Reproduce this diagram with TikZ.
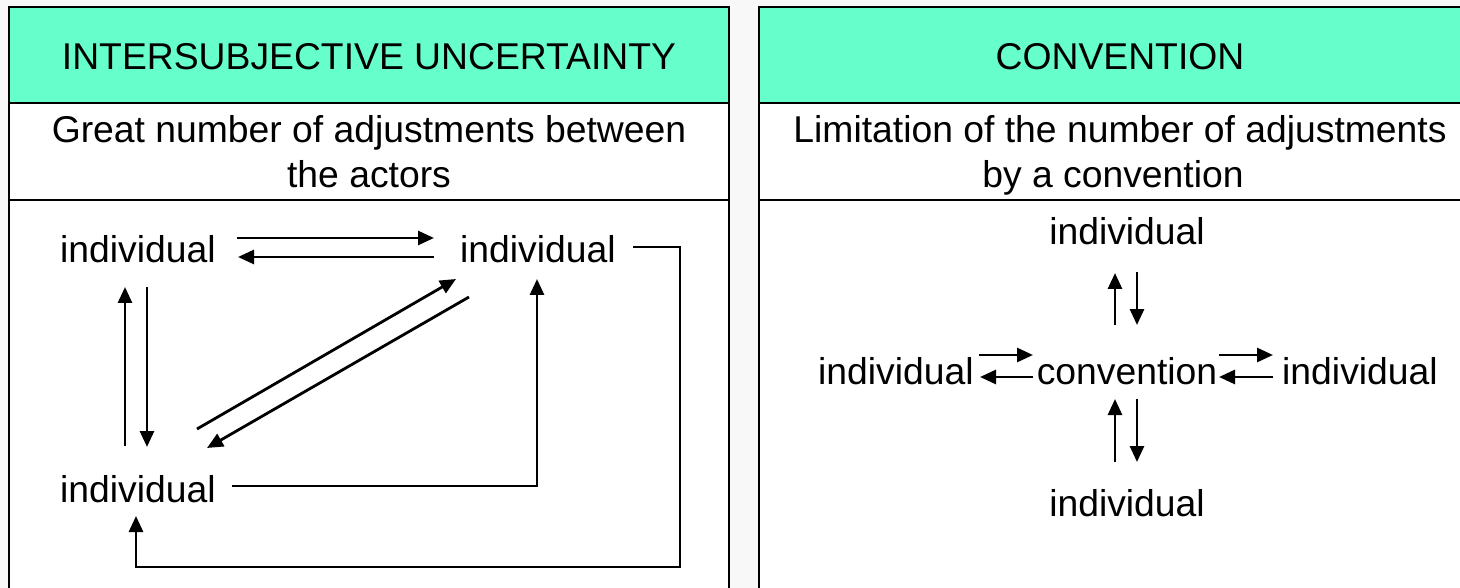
\documentclass[tikz,border=0pt]{standalone}
\usepackage{fontspec}
\setmainfont{Liberation Sans}
\usetikzlibrary{arrows.meta}
\definecolor{hdr}{RGB}{102,255,204}
\definecolor{bgc}{RGB}{248,248,248}
\begin{document}
\begin{tikzpicture}[x=1pt,y=-1pt,
  txt/.style={inner sep=0pt, font=\fontsize{37.3}{45}\selectfont},
  grid/.style={line width=2.6pt, draw=black},
  arr/.style={line width=2.8pt, -{Triangle[length=16pt,width=14pt]}},
  ln/.style={line width=2.8pt}]
\useasboundingbox (0,0) rectangle (1460,588);
\fill[bgc] (0,0) rectangle (1460,588);
% ---------- left table ----------
\fill[hdr] (9,7) rectangle (729,103);
\fill[white] (9,103) rectangle (729,600);
\draw[grid] (9,600) -- (9,7) -- (729,7) -- (729,600);
\draw[grid] (9,103) -- (729,103);
\draw[grid] (9,200) -- (729,200);
% ---------- right table ----------
\fill[hdr] (759,7) rectangle (1480,103);
\fill[white] (759,103) rectangle (1480,600);
\draw[grid] (759,600) -- (759,7) -- (1480,7);
\draw[grid] (759,103) -- (1480,103);
\draw[grid] (759,200) -- (1480,200);
% ---------- headings ----------
\node[txt, anchor=base] (hl) at (369,70) {INTERSUBJECTIVE UNCERTAINTY};
\node[txt, anchor=base] (hr) at (1120,70) {CONVENTION};
\node[txt, anchor=base] (dl1) at (369,143) {Great number of adjustments between};
\node[txt, anchor=base] (dl2) at (369,188) {the actors};
\node[txt, anchor=base] (dr1) at (1120,143) {Limitation of the number of adjustments};
\node[txt, anchor=base] (dr2) at (1113,188) {by a convention};
% ---------- left diagram ----------
\node[txt, anchor=base west] (tl) at (60,262) {individual};
\node[txt, anchor=base west] (tr) at (460,262) {individual};
\node[txt, anchor=base west] (bl) at (60,502) {individual};
\coordinate (a1s) at (237,238); \coordinate (a1e) at (434,238);
\coordinate (a2s) at (434,257); \coordinate (a2e) at (238,257);
\coordinate (a3s) at (125,446); \coordinate (a3e) at (125,287);
\coordinate (a4s) at (147,287); \coordinate (a4e) at (147,447);
\coordinate (a5s) at (197,429); \coordinate (a5e) at (456,279);
\coordinate (a6s) at (469,297); \coordinate (a6e) at (207,448);
\coordinate (a7s) at (633,247); \coordinate (a7c1) at (680,247);
\coordinate (a7c2) at (680,567); \coordinate (a7c3) at (136,567);
\coordinate (a7e) at (136,516);
\coordinate (a8s) at (232,486); \coordinate (a8c) at (537,486);
\coordinate (a8e) at (537,279);
\draw[arr] (a1s) -- (a1e);
\draw[arr] (a2s) -- (a2e);
\draw[arr] (a3s) -- (a3e);
\draw[arr] (a4s) -- (a4e);
\draw[arr] (a5s) -- (a5e);
\draw[arr] (a6s) -- (a6e);
\draw[arr] (a7s) -- (a7c1) -- (a7c2) -- (a7c3) -- (a7e);
\draw[arr] (a8s) -- (a8c) -- (a8e);
% ---------- right diagram ----------
\node[txt, anchor=base] (rt) at (1127,245) {individual};
\node[txt, anchor=base] (rc) at (1127,384) {convention};
\node[txt, anchor=base] (rb) at (1127,516) {individual};
\node[txt, anchor=base west] (rl) at (818,384) {individual};
\node[txt, anchor=base west] (rr) at (1282,384) {individual};
\coordinate (b1s) at (1115,325); \coordinate (b1e) at (1115,273);
\coordinate (b2s) at (1137,272); \coordinate (b2e) at (1137,325);
\coordinate (b3s) at (1115,462); \coordinate (b3e) at (1115,399);
\coordinate (b4s) at (1137,399); \coordinate (b4e) at (1137,462);
\coordinate (b5s) at (979,355); \coordinate (b5e) at (1033,355);
\coordinate (b6s) at (1033,377); \coordinate (b6e) at (980,377);
\coordinate (b7s) at (1219,355); \coordinate (b7e) at (1273,355);
\coordinate (b8s) at (1273,377); \coordinate (b8e) at (1219,377);
\draw[arr] (b1s) -- (b1e);
\draw[arr] (b2s) -- (b2e);
\draw[arr] (b3s) -- (b3e);
\draw[arr] (b4s) -- (b4e);
\draw[arr] (b5s) -- (b5e);
\draw[arr] (b6s) -- (b6e);
\draw[arr] (b7s) -- (b7e);
\draw[arr] (b8s) -- (b8e);
\end{tikzpicture}
\end{document}
